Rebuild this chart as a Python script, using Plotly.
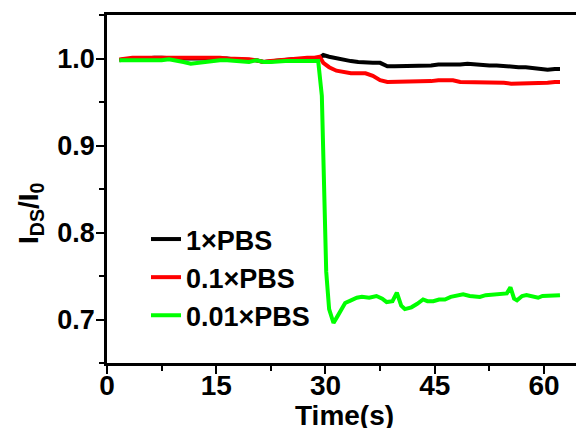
import plotly.graph_objects as go

# ---- data ----
t_black = [1.7, 2.5, 3.5, 4.5, 5.5, 6.5, 7.5, 8.5, 9.5, 10.5, 11.5, 12.5, 13.5, 14.5, 15.5,
           16.5, 17.5, 18.5, 19.5, 20.5, 21.5, 22.5, 23.5, 24.5, 25.5, 26.5, 27.5, 28.5, 29.2,
           29.7, 30.5, 31.5, 32.5, 33.5, 34.5, 35.5, 36.5, 37.5, 38.5, 39.5, 40.5, 41.5, 42.5,
           43.5, 44.5, 45.5, 46.5, 47.5, 48.5, 49.5, 50.5, 51.5, 52.5, 53.5, 54.5, 55.5, 56.5,
           57.5, 58.5, 59.5, 60.5, 61.5, 62.2]
v_black = [0.998, 0.999, 0.999, 1.000, 1.000, 1.001, 1.001, 1.000, 1.000, 1.000, 1.000, 1.000,
           1.000, 1.001, 1.000, 1.000, 0.999, 0.999, 0.999, 0.998, 0.996, 0.997, 0.998, 0.998,
           0.999, 0.999, 0.999, 1.000, 1.001, 1.004, 1.002, 1.000, 0.998, 0.997, 0.996, 0.995,
           0.995, 0.995, 0.991, 0.991, 0.991, 0.992, 0.992, 0.991, 0.992, 0.993, 0.993, 0.992,
           0.993, 0.994, 0.993, 0.993, 0.992, 0.992, 0.991, 0.991, 0.990, 0.990, 0.989, 0.988,
           0.987, 0.988, 0.988]

t_red = [1.7, 2.5, 3.5, 4.5, 5.5, 6.5, 7.5, 8.5, 9.5, 10.5, 11.5, 12.5, 13.5, 14.5, 15.5,
         16.5, 17.5, 18.5, 19.5, 20.5, 21.5, 22.5, 23.5, 24.5, 25.5, 26.5, 27.5, 28.5, 29.2,
         29.7, 30.5, 31.5, 32.5, 33.5, 34.5, 35.5, 36.5, 37.5, 38.5, 39.5, 40.5, 41.5, 42.5,
         43.5, 44.5, 45.5, 46.5, 47.5, 48.5, 49.5, 50.5, 51.5, 52.5, 53.5, 54.5, 55.5, 56.5,
         57.5, 58.5, 59.5, 60.5, 61.5, 62.2]
v_red = [0.999, 1.000, 1.001, 1.001, 1.001, 1.002, 1.001, 1.001, 1.001, 1.002, 1.001, 1.001,
         1.002, 1.001, 1.001, 1.000, 1.000, 1.000, 0.999, 0.998, 0.996, 0.997, 0.998, 0.999,
         0.999, 1.000, 1.001, 1.001, 1.002, 0.995, 0.990, 0.986, 0.984, 0.983, 0.983, 0.983,
         0.980, 0.975, 0.973, 0.973, 0.973, 0.973, 0.974, 0.974, 0.974, 0.975, 0.975, 0.975,
         0.973, 0.973, 0.972, 0.972, 0.972, 0.972, 0.972, 0.971, 0.971, 0.971, 0.971, 0.972,
         0.972, 0.973, 0.973]

t_green = [1.7, 2.5, 3.5, 4.5, 5.5, 6.5, 7.5, 8.5, 9.5, 10.5, 11.5, 12.5, 13.5, 14.5, 15.5,
           16.5, 17.5, 18.5, 19.5, 20.5, 21.5, 22.5, 23.5, 24.5, 25.5, 26.5, 27.5, 28.5, 29.0,
           29.5, 29.8, 30.1, 30.5, 31.1, 31.6, 32.2, 32.7, 33.5, 34.3, 35.0, 36.0, 37.0, 37.8,
           38.4, 39.2, 39.8, 40.4, 40.9, 41.8, 42.6, 43.4, 44.0, 44.8, 45.6, 46.4, 47.2, 48.0,
           48.9, 49.8, 50.6, 51.2, 52.0, 53.0, 54.0, 54.9, 55.4, 55.9, 56.3, 57.0, 57.6, 58.4,
           59.2, 59.8, 60.5, 61.3, 62.2]
v_green = [0.998, 0.998, 0.998, 0.998, 0.998, 0.997, 0.998, 0.999, 0.998, 0.996, 0.994, 0.995,
           0.997, 0.998, 0.998, 0.998, 0.997, 0.997, 0.996, 0.998, 0.996, 0.996, 0.997, 0.997,
           0.997, 0.997, 0.998, 0.997, 0.997, 0.957, 0.860, 0.755, 0.712, 0.696, 0.703, 0.713,
           0.719, 0.722, 0.725, 0.726, 0.725, 0.727, 0.724, 0.720, 0.721, 0.731, 0.716, 0.712,
           0.714, 0.718, 0.723, 0.721, 0.721, 0.723, 0.723, 0.726, 0.727, 0.729, 0.727, 0.727,
           0.726, 0.728, 0.729, 0.729, 0.730, 0.737, 0.724, 0.722, 0.727, 0.728, 0.727, 0.725,
           0.727, 0.727, 0.728, 0.728]

series_names = ["1×PBS", "0.1×PBS", "0.01×PBS"]
series_colors = ["#000000", "#ff0000", "#00ff00"]
x_title = "Time(s)"
y_title = "I<sub>DS</sub>/I<sub>0</sub>"

FONT = "Liberation Sans, Arial, sans-serif"

fig = go.Figure()
for t, v, name, col in zip([t_black, t_red, t_green], [v_black, v_red, v_green],
                           series_names, series_colors):
    fig.add_trace(go.Scatter(x=t, y=v, mode="lines", name=name,
                             line=dict(color=col, width=4)))

W, H = 576, 428
ml, mr, mt, mb = 107, 0, 15, 65
PW, PH = W - ml - mr, H - mt - mb

fig.update_layout(
    width=W, height=H,
    margin=dict(l=ml, r=mr, t=mt, b=mb, pad=0),
    paper_bgcolor="white", plot_bgcolor="white",
    font=dict(family=FONT, color="black", weight=700),
    showlegend=True,
    legend=dict(x=(146 - ml) / PW, y=(H - mb - 215) / PH,
                xanchor="left", yanchor="top",
                font=dict(family=FONT, size=27, color="black", weight=700),
                bgcolor="rgba(0,0,0,0)", borderwidth=0, tracegroupgap=0),
    xaxis=dict(range=[0, 64.4], tickmode="linear", tick0=0, dtick=15,
               showline=True, linecolor="black", linewidth=2.5, mirror=True,
               ticks="outside", ticklen=8, tickwidth=2, tickcolor="black",
               ticklabelstandoff=-12,
               minor=dict(ticks="outside", ticklen=5, tickwidth=2, dtick=7.5,
                          tickcolor="black", showgrid=False),
               showgrid=False, zeroline=False,
               tickfont=dict(family=FONT, size=28, color="black", weight=700)),
    yaxis=dict(range=[0.65, 1.05], tickmode="linear", tick0=0.7, dtick=0.1,
               tickformat=".1f",
               showline=True, linecolor="black", linewidth=2.5, mirror=False,
               ticks="outside", ticklen=8, tickwidth=2, tickcolor="black",
               ticklabelstandoff=-4,
               minor=dict(ticks="outside", ticklen=5, tickwidth=2, dtick=0.05,
                          tickcolor="black", showgrid=False),
               showgrid=False, zeroline=False,
               tickfont=dict(family=FONT, size=27, color="black", weight=700)),
)

fig.add_annotation(text=y_title, xref="paper", yref="paper",
                   x=(30 - ml) / PW, y=(H - mb - 213) / PH,
                   xanchor="center", yanchor="middle", textangle=-90, showarrow=False,
                   font=dict(family=FONT, size=28, color="black", weight=700))

fig.add_annotation(text=x_title, xref="paper", yref="paper",
                   x=(344 - ml) / PW, y=(H - mb - 398) / PH,
                   xanchor="center", yanchor="top", showarrow=False,
                   font=dict(family=FONT, size=28, color="black", weight=700))

fig.write_html("out.html", config={"displayModeBar": False},
               post_script="document.body.style.margin='0';document.body.style.overflow='hidden';")
